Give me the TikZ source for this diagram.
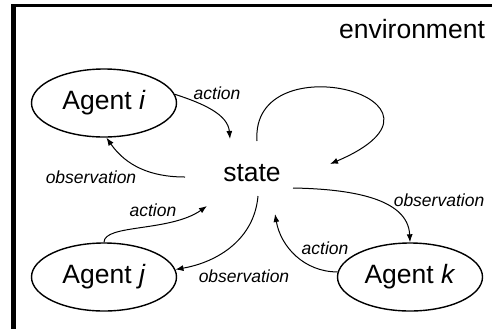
\documentclass[tikz,border=0pt]{standalone}
\usepackage{fontspec}
\setmainfont{Liberation Sans}
\usetikzlibrary{arrows.meta,shapes.geometric}
\begin{document}
\begin{tikzpicture}[x=1bp,y=-1bp,
  agent/.style={draw,ellipse,line width=1.4bp,minimum width=145bp,minimum height=68bp,inner sep=0pt,font=\fontsize{26.5bp}{30bp}\selectfont},
  big/.style={inner sep=0pt,font=\fontsize{26.5bp}{30bp}\selectfont},
  lbl/.style={inner sep=0pt,font=\fontsize{17.5bp}{20bp}\selectfont\itshape},
  conn/.style={line width=1bp,-{Latex[length=8bp,width=6bp]}}]
\useasboundingbox (0,0) rectangle (492,328);
\clip (0,0) rectangle (492,328);
% frame (left and top edges visible)
\fill[black] (11,3.8) rectangle (16,335);
\fill[black] (11,3.8) rectangle (500,7.3);
% nodes
\node[big] (env) at (412,29) {environment};
\node[agent] (ai) at (104,103) {Agent \textit{i}};
\node[agent] (aj) at (104,277) {Agent \textit{j}};
\node[agent] (ak) at (410,277) {Agent \textit{k}};
\node[big] (st) at (252,173) {state};
% connector end points around the state
\coordinate (sAi) at (230,139);
\coordinate (sOi) at (185,177);
\coordinate (sL1) at (257,141);
\coordinate (sL2) at (330,164);
\coordinate (sOk) at (293,188);
\coordinate (sAk) at (275,214);
\coordinate (sOj) at (258,196);
\coordinate (sAj) at (207,206);
% connectors
\draw[conn] (ai.7) .. controls (205,104) and (228,115) .. (sAi);
\draw[conn] (sOi) to[out=180,in=-55] (ai.-86);
\draw[conn] (sL1) .. controls (250,40) and (480,100) .. (sL2);
\draw[conn] (sOk) .. controls (350,189) and (408,198) .. (ak.north);
\draw[conn] (ak.176) to[out=180,in=-80] (sAk);
\draw[conn] (sOj) to[out=-95,in=10] (aj.6);
\draw[conn] (aj.north) .. controls (104,224) and (170,232) .. (sAj);
% labels
\node[lbl] (l1) at (217,93) {action};
\node[lbl] (l2) at (91,177) {observation};
\node[lbl] (l3) at (153,210) {action};
\node[lbl] (l4) at (244,276) {observation};
\node[lbl] (l5) at (439,200) {observation};
\node[lbl] (l6) at (325,248) {action};
\end{tikzpicture}
\end{document}
